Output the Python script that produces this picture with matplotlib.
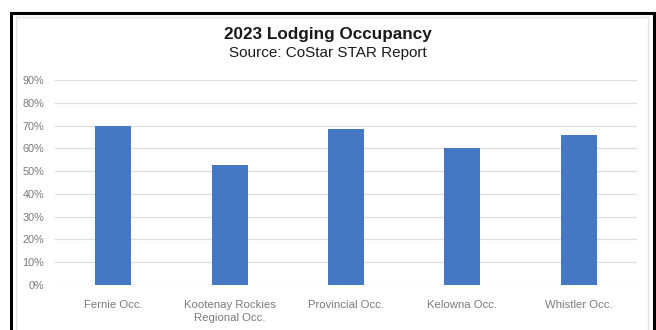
import matplotlib.pyplot as plt
from matplotlib.patches import Rectangle
from matplotlib.ticker import FuncFormatter

# 2023 occupancy by market (share of available rooms)
markets = ['Fernie Occ.', 'Kootenay Rockies\nRegional Occ.', 'Provincial Occ.',
           'Kelowna Occ.', 'Whistler Occ.']
occupancy = [0.70, 0.525, 0.685, 0.60, 0.66]
yticks = [0.0, 0.1, 0.2, 0.3, 0.4, 0.5, 0.6, 0.7, 0.8, 0.9]

plt.rcParams['font.family'] = ['Liberation Sans', 'DejaVu Sans']

W, H = 656, 330
fig = plt.figure(figsize=(W / 100, H / 100), dpi=100)
fig.patch.set_facecolor('white')

# outer black frame and faint inner chart-area border
fig.patches.append(Rectangle((11 / W, -0.05), 643 / W, (H - 13) / H + 0.05,
                             transform=fig.transFigure, fill=False,
                             edgecolor='black', linewidth=2.2))
fig.patches.append(Rectangle((16 / W, -0.05), 632 / W, (H - 17) / H + 0.05,
                             transform=fig.transFigure, fill=False,
                             edgecolor='#e4e4e4', linewidth=1.0))

ax = fig.add_axes([55 / W, (H - 285) / H, 582 / W, 205 / H])
x = range(len(markets))
ax.bar(x, occupancy, width=0.31, color='#4677c2', zorder=3)

ax.set_xlim(-0.5, len(markets) - 0.5)
ax.set_ylim(0, 0.9)
ax.set_yticks(yticks)
ax.yaxis.set_major_formatter(FuncFormatter(lambda v, p: f'{v * 100:.0f}%'))
ax.set_xticks(list(x))
ax.set_xticklabels(markets, fontsize=8.2, color='#7a7a7a', linespacing=1.3)
ax.tick_params(axis='y', labelsize=7.8, labelcolor='#7a7a7a', length=0, pad=8)
ax.tick_params(axis='x', length=0, pad=11)
ax.grid(axis='y', color='#dedede', linewidth=0.9, zorder=0)
for s in ax.spines.values():
    s.set_visible(False)

fig.text(0.5, (H - 35) / H, '2023 Lodging Occupancy', ha='center', va='center',
         fontsize=12.3, fontweight='bold', color='#1a1a1a')
fig.text(0.5, (H - 53) / H, 'Source: CoStar STAR Report', ha='center',
         va='center', fontsize=11, color='#1a1a1a')

fig.savefig('out.png', dpi=100)
